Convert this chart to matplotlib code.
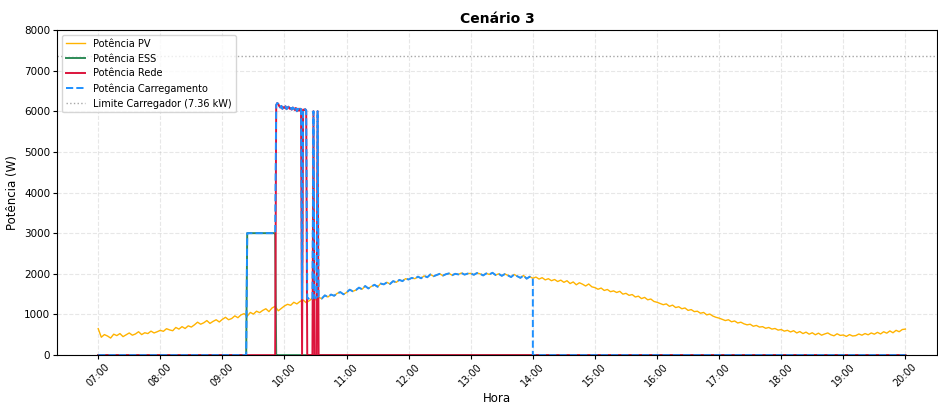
import numpy as np
import matplotlib.pyplot as plt

# PV power every 3 minutes from 07:00 to 20:00 (W), one row per hour
pv_power = [
    650, 440, 505, 470, 420, 515, 480, 530, 455, 500, 545, 490, 520, 575, 505, 550, 530, 590, 545, 575,
    610, 585, 650, 620, 600, 680, 640, 700, 655, 720, 690, 745, 810, 760, 795, 850, 780, 830, 870, 815,
    880, 930, 870, 900, 965, 920, 990, 1020, 960, 1050, 1010, 1080, 1045, 1100, 1140, 1070, 1160, 1200, 1090, 1150,
    1210, 1250, 1225, 1300, 1260, 1320, 1355, 1290, 1340, 1400, 1360, 1420, 1390, 1470, 1430, 1490, 1460, 1520, 1550, 1495,
    1540, 1610, 1570, 1600, 1660, 1620, 1700, 1640, 1690, 1730, 1680, 1760, 1740, 1790, 1750, 1820, 1790, 1850, 1820, 1880,
    1860, 1900, 1880, 1930, 1890, 1950, 1915, 1985, 1940, 1970, 2000, 1955, 1990, 2010, 1965, 2000, 1985, 2020, 1980, 2005,
    2010, 1975, 2020, 2000, 1960, 2010, 1985, 2025, 1970, 2000, 1950, 1995, 1960, 1920, 1985, 1940, 1900, 1960, 1880, 1930,
    1890, 1920, 1870, 1905, 1850, 1880, 1830, 1860, 1810, 1845, 1790, 1830, 1760, 1800, 1730, 1780, 1745, 1700, 1750, 1680,
    1660, 1620, 1650, 1590, 1615, 1560, 1580, 1540, 1570, 1500, 1520, 1470, 1490, 1430, 1450, 1390, 1420, 1360, 1380, 1320,
    1300, 1270, 1240, 1260, 1200, 1230, 1170, 1190, 1140, 1160, 1100, 1120, 1070, 1080, 1030, 1050, 990, 1010, 960, 930,
    910, 880, 850, 870, 820, 840, 790, 810, 770, 745, 760, 710, 730, 690, 700, 660, 680, 640, 655, 615,
    630, 590, 610, 570, 600, 545, 580, 530, 565, 515, 550, 500, 540, 490, 520, 545, 500, 475, 525, 485,
    495, 460, 505, 470, 480, 520, 490, 530, 500, 545, 515, 560, 520, 575, 540, 595, 550, 610, 575, 630,
    640,
]
pv_step_min = 3

# charging power minute by minute, 09:20 to 10:34 (W)
win_start = "09:20"
charge_window = (
    [0, 0, 0, 0]
    + [3000] * 28
    + [6150, 6200, 6180, 6120, 6090, 6130, 6060, 6100, 6080, 6120, 6050, 6090, 6110,
       6060, 6080, 6040, 6090, 6070, 6030, 6080, 6000, 6060, 6010, 6060, 6050]
    + [1390, 6040, 6030, 6050, 6020, 1400, 1385, 1410, 1395, 1405, 1390, 6000,
       1410, 1400, 1420, 6000, 1430, 1415]
)
pv_follow_from = "10:36"
charge_stop = "14:00"
day_start, day_end = "07:00", "20:00"
charger_limit_kw = 7.36

hour_labels = ["07:00", "08:00", "09:00", "10:00", "11:00", "12:00", "13:00",
               "14:00", "15:00", "16:00", "17:00", "18:00", "19:00", "20:00"]


def to_h(s):
    hh, mm = s.split(":")
    return int(hh) + int(mm) / 60


pv = np.array(pv_power, dtype=float)
t_pv = to_h(day_start) + np.arange(len(pv)) * pv_step_min / 60

ch_win = np.array(charge_window, dtype=float)
t_win = to_h(win_start) + np.arange(len(ch_win)) / 60

# charging: zero, then the window, then it follows PV until the stop time
i0 = int(round((to_h(pv_follow_from) - to_h(day_start)) * 60 / pv_step_min))
i1 = int(round((to_h(charge_stop) - to_h(day_start)) * 60 / pv_step_min))
t_ch = np.concatenate([[to_h(day_start)], t_win, t_pv[i0:i1 + 1],
                       [to_h(charge_stop), to_h(day_end)]])
p_ch = np.concatenate([[0], ch_win, pv[i0:i1 + 1], [0, 0]])

# grid covers the high-power blocks, ESS the 3 kW block
t_src = np.concatenate([[to_h(day_start)], t_win, [to_h(day_end)]])
grid = np.concatenate([[0], np.where(ch_win > 5000, ch_win, 0), [0]])
ess = np.concatenate([[0], np.where(ch_win == 3000, ch_win, 0), [0]])

fig, ax = plt.subplots(figsize=(9.38, 4.04), dpi=100)
fig.subplots_adjust(left=0.061, right=0.999, bottom=0.121, top=0.926)

ax.plot(t_pv, pv, color='#FFB300', linewidth=1.0, label='Potência PV')
ax.plot(t_src, ess, color='#2E8B57', linewidth=1.4, label='Potência ESS')
ax.plot(t_src, grid, color='#DC143C', linewidth=1.4, label='Potência Rede')
ax.plot(t_ch, p_ch, color='#1E90FF', linewidth=1.4, linestyle='--', label='Potência Carregamento')
ax.axhline(charger_limit_kw * 1000, color='gray', linestyle=':', linewidth=1, alpha=0.7,
           label=f'Limite Carregador ({charger_limit_kw} kW)')

ax.set_xlim(to_h(day_start) - 0.66, to_h(day_end) + 0.51)
ax.set_ylim(0, 8000)
ax.set_xticks([to_h(s) for s in hour_labels])
ax.set_xticklabels(hour_labels, rotation=45, fontsize=7)
ax.tick_params(axis='both', length=3, pad=2)
ax.tick_params(axis='y', labelsize=7.5)
ax.set_xlabel('Hora', fontsize=8.5, labelpad=2)
ax.set_ylabel('Potência (W)', fontsize=8.5)
ax.set_title('Cenário 3', fontsize=10, fontweight='bold', pad=5)
ax.grid(True, linestyle='--', alpha=0.3)
ax.legend(loc='upper left', fontsize=7)

fig.savefig('out.png', dpi=100)
